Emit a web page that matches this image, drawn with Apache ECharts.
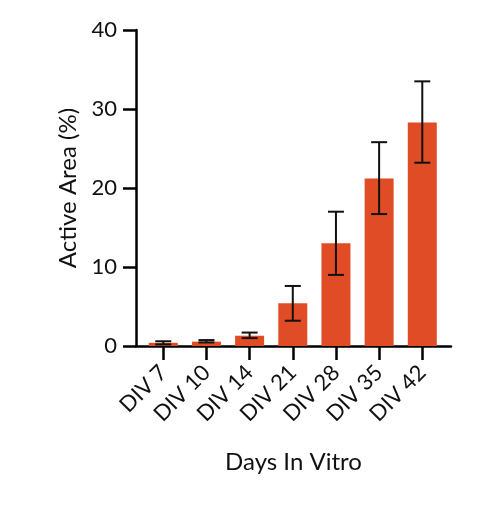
<!DOCTYPE html>
<html>
<head>
<meta charset="utf-8">
<script src="https://cdn.jsdelivr.net/npm/echarts@6/dist/echarts.min.js"></script>
<style>
html,body{margin:0;padding:0;background:#fff;}
#c{width:496px;height:509px;}
</style>
</head>
<body>
<div id="c"></div>
<script>
const categories = ['DIV 7','DIV 10','DIV 14','DIV 21','DIV 28','DIV 35','DIV 42'];
const meanValues = [0.4, 0.55, 1.3, 5.4, 13.0, 21.2, 28.3];
const errLow  = [0.2, 0.45, 1.0, 3.2, 9.0, 16.7, 23.2];
const errHigh = [0.6, 0.75, 1.7, 7.6, 17.0, 25.8, 33.5];
const yTicks = [0, 10, 20, 30, 40];

const positions = categories.map((c, i) => i);
const barData = positions.map(i => [i, meanValues[i]]);
const errData = positions.map(i => [i, errLow[i], errHigh[i]]);

const FONT = 'Lato';
const chart = echarts.init(document.getElementById('c'), null, {renderer: 'canvas'});
chart.setOption({
  animation: false,
  backgroundColor: '#ffffff',
  grid: {left: 136, right: 45, top: 30, bottom: 163, containLabel: false, outerBoundsMode: 'none'},
  xAxis: {
    type: 'value',
    min: -0.632,
    max: 6.665,
    name: 'Days In Vitro',
    nameLocation: 'middle',
    nameGap: 104,
    nameTextStyle: {fontFamily: FONT, fontSize: 24, color: '#111'},
    splitLine: {show: false},
    axisLine: {show: true, onZero: false, lineStyle: {color: '#000', width: 2.5}},
    axisTick: {show: true, customValues: positions, length: 14, lineStyle: {color: '#000', width: 2.5}},
    axisLabel: {
      customValues: positions,
      formatter: v => categories[Math.round(v)],
      rotate: 45,
      margin: 23,
      fontFamily: FONT, fontSize: 22, color: '#111'
    }
  },
  yAxis: {
    type: 'value',
    min: yTicks[0],
    max: yTicks[yTicks.length - 1],
    interval: 10,
    name: 'Active Area (%)',
    nameLocation: 'middle',
    nameGap: 50,
    nameTextStyle: {fontFamily: FONT, fontSize: 24, color: '#111'},
    splitLine: {show: false},
    axisLine: {show: true, onZero: false, lineStyle: {color: '#000', width: 2.5}},
    axisTick: {show: true, length: 13, lineStyle: {color: '#000', width: 2.5}},
    axisLabel: {margin: 19, fontFamily: FONT, fontSize: 22, color: '#111'}
  },
  series: [
    {
      type: 'bar',
      data: barData,
      barWidth: 29,
      itemStyle: {color: '#E04C26'},
      z: 2
    },
    {
      type: 'custom',
      data: errData,
      z: 5,
      renderItem: function (params, api) {
        const x = api.value(0);
        const top = api.coord([x, api.value(2)]);
        const bot = api.coord([x, api.value(1)]);
        const hw = 8;
        const st = {stroke: '#111', lineWidth: 2};
        return {
          type: 'group',
          children: [
            {type: 'line', shape: {x1: top[0], y1: top[1], x2: bot[0], y2: bot[1]}, style: st},
            {type: 'line', shape: {x1: top[0] - hw, y1: top[1], x2: top[0] + hw, y2: top[1]}, style: st},
            {type: 'line', shape: {x1: bot[0] - hw, y1: bot[1], x2: bot[0] + hw, y2: bot[1]}, style: st}
          ]
        };
      }
    }
  ]
});
</script>
</body>
</html>
